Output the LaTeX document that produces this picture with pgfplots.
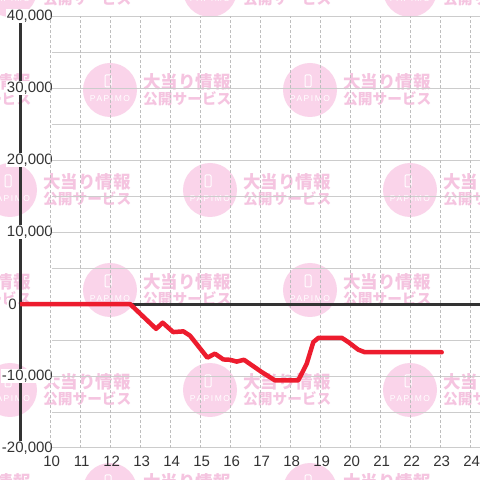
\documentclass[border=0pt]{standalone}
\usepackage{pgfplots}
\pgfplotsset{compat=1.18}
\usepackage{fontspec}
\setmainfont{Liberation Sans}
\newfontfamily\cjk{Noto Sans CJK JP}
\definecolor{wmcircle}{RGB}{250,212,234}
\definecolor{wmtext}{RGB}{245,196,224}
\definecolor{redline}{RGB}{237,28,46}
\definecolor{axisgray}{RGB}{51,51,51}
\definecolor{gridgray}{RGB}{204,204,204}
\definecolor{dotgray}{RGB}{190,190,190}
\begin{document}
\begin{tikzpicture}[x=1pt,y=1pt]
\useasboundingbox (0,0) rectangle (480,480);
\clip (0,0) rectangle (480,480);
\fill[white] (0,0) rectangle (480,480);
\foreach \cx/\cy in {10/490,210/490,410/490,-90/390,110/390,310/390,10/290,210/290,410/290,-90/190,110/190,310/190,10/90,210/90,410/90,-90/-10,110/-10,310/-10}{
  \begin{scope}[shift={(\cx,\cy)}]
    \fill[wmcircle] (0,0) circle (27);
    \draw[white, line width=1, rounded corners=1] (-5,3) rectangle (1,15);
    \node[white, inner sep=0, font=\fontsize{8.5}{9}\selectfont\addfontfeatures{LetterSpace=18}] at (0,-9) {PAPIMO};
    \node[wmtext, anchor=west, inner sep=0, font=\cjk\bfseries\fontsize{17.5}{18}\selectfont] at (33,8) {大当り情報};
    \node[wmtext, anchor=west, inner sep=0, font=\cjk\bfseries\fontsize{14.7}{15}\selectfont] at (33,-9) {公開サービス};
  \end{scope}
}
% y axis line, broken where the tick labels sit
\foreach \ya/\yb in {457/399, 385/327, 313/255, 241/111, 97/39}{
  \draw[axisgray, line width=3] (20,\ya) -- (20,\yb);
}
\begin{axis}[
  at={(20pt,32pt)}, anchor=south west, scale only axis,
  width=460pt, height=432pt,
  xmin=8.983, xmax=24.317, ymin=-20000, ymax=40000,
  axis line style={draw=none}, tick style={draw=none}, major tick length=0pt,
  xtick={10,11,12,13,14,15,16,17,18,19,20,21,22,23,24},
  ytick={-20000,-10000,10000,20000,30000,40000},
  extra y ticks={0},
  extra y tick style={yticklabel style={xshift=-36pt}},
  scaled y ticks=false,
  /pgf/number format/assume math mode=true,
  /pgf/number format/1000 sep={,},
  ticklabel style={font=\fontsize{15}{16}\selectfont, text=axisgray},
  yticklabel style={anchor=east, inner sep=1pt, fill=white, xshift=34pt},
  xticklabel style={anchor=north, inner sep=1pt, yshift=-6.5pt, xshift=1.2pt},
]
\pgfplotsinvokeforeach{-20000,-15000,-10000,-5000,5000,10000,15000,20000,25000,30000,35000,40000}{
  \draw[gridgray, line width=1] (axis cs:10.05,#1) -- (axis cs:24.317,#1);
}
\pgfplotsinvokeforeach{10,11,12,13,14,15,16,17,18,19,20,21,22,23,24}{
  \draw[dotgray, line width=0.8, dash pattern=on 2.5pt off 2.5pt] (axis cs:#1,-20000) -- (axis cs:#1,40000);
}
\draw[axisgray, line width=3] (axis cs:8.983,0) -- (axis cs:24.317,0);
\addplot[redline, line width=4.5pt, line join=round, line cap=round] coordinates {
(9,0) (12.65,0) (13.52,-3450) (13.74,-2600) (14.09,-3900) (14.43,-3800) (14.65,-4400)
(15.23,-7450) (15.48,-6900) (15.76,-7700) (15.98,-7750) (16.21,-8000) (16.45,-7750)
(17.04,-9450) (17.48,-10600) (18.26,-10600) (18.54,-8300) (18.76,-5300) (18.93,-4700)
(19.71,-4700) (19.93,-5300) (20.26,-6350) (20.48,-6700) (23.04,-6700)
};
\end{axis}
\end{tikzpicture}
\end{document}
